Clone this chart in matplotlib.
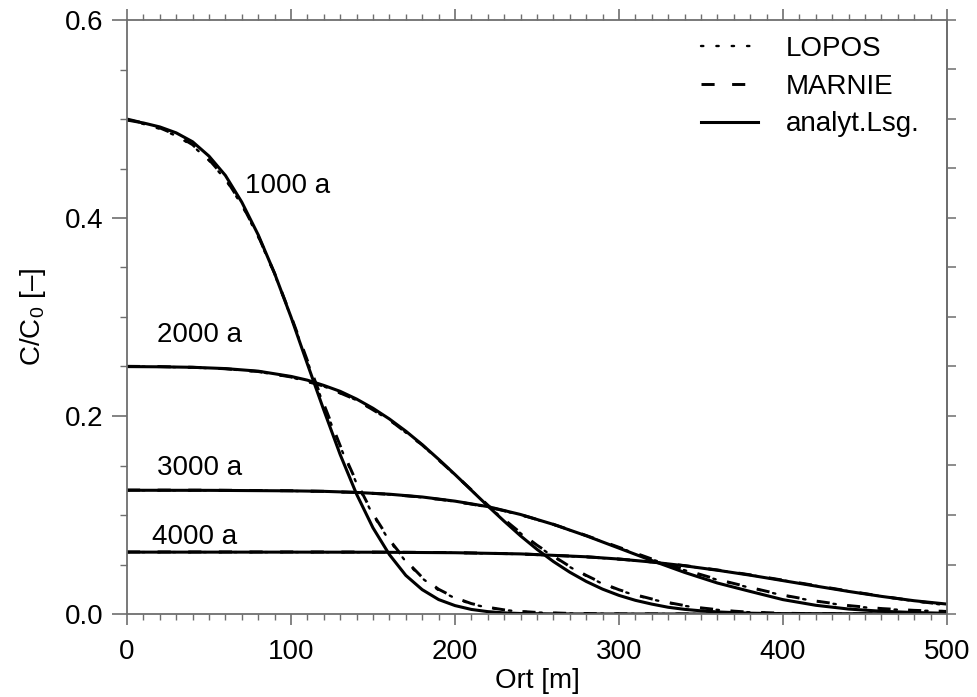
import matplotlib
matplotlib.use('Agg')
import matplotlib.pyplot as plt
from matplotlib.ticker import MultipleLocator

plt.rcParams['font.family'] = ['Liberation Sans', 'DejaVu Sans']
plt.rcParams['mathtext.fontset'] = 'custom'
plt.rcParams['mathtext.rm'] = 'Liberation Sans'
plt.rcParams['mathtext.it'] = 'Liberation Sans'
plt.rcParams['mathtext.bf'] = 'Liberation Sans'

# ---------------- data ----------------
# 1000 a
x1000_ana = [0, 10, 20, 30, 40, 50, 60, 70, 80, 90, 100, 110, 120, 130, 140, 150, 160, 170,
             180, 190, 200, 210, 220, 230, 240, 260, 300, 350, 400, 450, 500]
c1000_ana = [0.499, 0.496, 0.492, 0.486, 0.477, 0.4625, 0.443, 0.416, 0.383, 0.344, 0.300,
             0.2525, 0.206, 0.161, 0.121, 0.087, 0.060, 0.039, 0.0246, 0.0146, 0.0085, 0.0046,
             0.0024, 0.0011, 0.0005, 0.0001, 0.0, 0.0, 0.0, 0.0, 0.0]
x1000_num = [0, 10, 20, 30, 40, 50, 60, 70, 80, 90, 100, 110, 120, 130, 140, 150, 160, 170,
             180, 190, 200, 210, 220, 230, 240, 250, 270, 300, 350, 400, 450, 500]
c1000_lopos = [0.499, 0.495, 0.490, 0.483, 0.473, 0.458, 0.439, 0.413, 0.381, 0.343, 0.300,
               0.255, 0.211, 0.169, 0.132, 0.100, 0.074, 0.053, 0.036, 0.024, 0.016, 0.010,
               0.0065, 0.004, 0.0025, 0.0015, 0.0005, 0.0001, 0.0, 0.0, 0.0, 0.0]
c1000_marnie = [0.500, 0.496, 0.491, 0.484, 0.474, 0.459, 0.440, 0.414, 0.382, 0.344, 0.301,
                0.256, 0.212, 0.170, 0.133, 0.101, 0.075, 0.054, 0.037, 0.025, 0.0165, 0.0105,
                0.0068, 0.0042, 0.0026, 0.0016, 0.0006, 0.0001, 0.0, 0.0, 0.0, 0.0]

# 2000 a
x2000_ana = [0, 20, 40, 60, 80, 100, 110, 120, 130, 140, 150, 160, 170, 180, 190, 200, 210,
             220, 230, 240, 250, 260, 270, 280, 290, 300, 310, 320, 330, 340, 350, 360, 380,
             400, 450, 500]
c2000_ana = [0.2499, 0.2497, 0.2492, 0.2479, 0.2453, 0.2400, 0.2362, 0.2309, 0.2249, 0.2171,
             0.2078, 0.1970, 0.1847, 0.1711, 0.1563, 0.1409, 0.1250, 0.1091, 0.0937, 0.0789,
             0.0653, 0.0530, 0.0422, 0.0329, 0.0251, 0.0188, 0.0138, 0.0100, 0.0068, 0.0047,
             0.0032, 0.0021, 0.0008, 0.0003, 0.0, 0.0]
x2000_num = [0, 20, 40, 60, 80, 100, 120, 140, 160, 180, 200, 210, 220, 230, 240, 250, 260,
             270, 280, 290, 300, 310, 320, 330, 340, 350, 360, 370, 380, 400, 420, 450, 500]
c2000_lopos = [0.2500, 0.2497, 0.2490, 0.2475, 0.2447, 0.2392, 0.2300, 0.2160, 0.1960, 0.1705,
               0.1405, 0.1250, 0.1095, 0.0950, 0.0815, 0.0690, 0.0580, 0.0475, 0.0385, 0.0305,
               0.0240, 0.0190, 0.0148, 0.0112, 0.0082, 0.0060, 0.0042, 0.0027, 0.0017, 0.0007,
               0.0002, 0.0, 0.0]
c2000_marnie = [0.2502, 0.2499, 0.2492, 0.2477, 0.2449, 0.2394, 0.2302, 0.2162, 0.1962, 0.1708,
                0.1408, 0.1254, 0.1100, 0.0955, 0.0820, 0.0695, 0.0585, 0.0480, 0.0390, 0.0310,
                0.0245, 0.0194, 0.0152, 0.0116, 0.0085, 0.0062, 0.0044, 0.0029, 0.0018, 0.0008,
                0.0003, 0.0, 0.0]

# 3000 a
x3000 = [0, 50, 100, 120, 140, 160, 180, 200, 220, 240, 260, 280, 300, 320, 340, 360, 380,
         400, 420, 440, 460, 480, 500]
c3000_ana = [0.1250, 0.1249, 0.1244, 0.1239, 0.1228, 0.1210, 0.1182, 0.1140, 0.1085, 0.1005,
             0.0905, 0.0790, 0.0665, 0.0540, 0.0420, 0.0313, 0.0228, 0.0145, 0.0088, 0.0050,
             0.0028, 0.0015, 0.0007]
c3000_lopos = [0.1250, 0.1249, 0.1243, 0.1237, 0.1226, 0.1207, 0.1178, 0.1136, 0.1080, 0.1000,
               0.0903, 0.0790, 0.0670, 0.0552, 0.0442, 0.0345, 0.0265, 0.0188, 0.0128, 0.0082,
               0.0052, 0.0035, 0.0028]
c3000_marnie = [0.1252, 0.1251, 0.1245, 0.1239, 0.1228, 0.1209, 0.1180, 0.1138, 0.1082, 0.1003,
                0.0906, 0.0793, 0.0674, 0.0556, 0.0446, 0.0349, 0.0268, 0.0191, 0.0131, 0.0085,
                0.0055, 0.0037, 0.0026]

# 4000 a
x4000 = [0, 100, 150, 200, 240, 280, 300, 320, 340, 360, 380, 400, 420, 440, 460, 480, 500]
c4000_ana = [0.0625, 0.0625, 0.0624, 0.0619, 0.0607, 0.0578, 0.0555, 0.0525, 0.0487, 0.0442,
             0.0392, 0.0337, 0.0282, 0.0228, 0.0178, 0.0134, 0.0100]
c4000_lopos = [0.0625, 0.0625, 0.0624, 0.0618, 0.0605, 0.0576, 0.0553, 0.0524, 0.0487, 0.0443,
               0.0394, 0.0340, 0.0285, 0.0230, 0.0178, 0.0130, 0.0088]
c4000_marnie = [0.0627, 0.0627, 0.0626, 0.0620, 0.0607, 0.0578, 0.0555, 0.0526, 0.0489, 0.0445,
                0.0396, 0.0342, 0.0287, 0.0232, 0.0180, 0.0132, 0.0092]

curve_labels = ['1000 a', '2000 a', '3000 a', '4000 a']
label_pos = [(72, 0.432), (18, 0.282), (18, 0.1475), (15, 0.078)]

legend_labels = ['LOPOS', 'MARNIE', 'analyt.Lsg.']

x_ticks = [0, 100, 200, 300, 400, 500]
y_ticks = [0.0, 0.2, 0.4, 0.6]
y_ticklabels = ['0.0', '0.2', '0.4', '0.6']

FS = 20

# ---------------- figure ----------------
fig = plt.figure(figsize=(9.78, 6.97), dpi=100)
ax = fig.add_axes([127 / 978, 1 - 614 / 697, (947 - 127) / 978, (614 - 20) / 697])

dot_style = dict(color='black', lw=1.7, linestyle=(0, (1, 5.5)), dash_capstyle='round')
dash_style = dict(color='black', lw=2.1, linestyle=(0, (4.5, 6)))
solid_style = dict(color='black', lw=2.2, linestyle='-')

sets = [
    (x1000_num, c1000_lopos, x1000_num, c1000_marnie, x1000_ana, c1000_ana),
    (x2000_num, c2000_lopos, x2000_num, c2000_marnie, x2000_ana, c2000_ana),
    (x3000, c3000_lopos, x3000, c3000_marnie, x3000, c3000_ana),
    (x4000, c4000_lopos, x4000, c4000_marnie, x4000, c4000_ana),
]
for i, (xl, yl, xm, ym, xa, ya) in enumerate(sets):
    h1, = ax.plot(xl, yl, **dot_style)
    h2, = ax.plot(xm, ym, **dash_style)
    h3, = ax.plot(xa, ya, **solid_style)
    if i == 0:
        handles = [h1, h2, h3]

for lab, (tx, ty) in zip(curve_labels, label_pos):
    ax.text(tx, ty, lab, fontsize=FS, va='center', ha='left')

ax.set_xlim(0, 500)
ax.set_ylim(0, 0.6)
ax.set_xticks(x_ticks)
ax.set_yticks(y_ticks)
ax.set_yticklabels(y_ticklabels)
ax.xaxis.set_minor_locator(MultipleLocator(10))
ax.yaxis.set_minor_locator(MultipleLocator(0.05))

spine_col = '#6e6e6e'
for s in ax.spines.values():
    s.set_color(spine_col)
    s.set_linewidth(1.3)

ax.tick_params(axis='x', which='major', direction='out', length=8, width=1.2,
               color=spine_col, labelsize=FS, pad=10, top=True)
ax.tick_params(axis='x', which='minor', direction='out', length=4.5, width=1.0,
               color=spine_col, top=True)
ax.tick_params(axis='y', which='major', direction='out', length=11, width=1.2,
               color=spine_col, labelsize=FS, pad=6, right=False)
ax.tick_params(axis='y', which='minor', direction='out', length=5, width=1.0,
               color=spine_col, right=False)

sec = ax.secondary_yaxis('right')
sec.set_yticks(y_ticks)
sec.yaxis.set_minor_locator(MultipleLocator(0.05))
sec.tick_params(which='both', direction='out', length=6.5, width=1.1, color=spine_col,
                labelright=False)
sec.spines['right'].set_color(spine_col)
sec.spines['right'].set_linewidth(1.3)

ax.set_xlabel('Ort [m]', fontsize=FS, labelpad=2)
ax.set_ylabel('C/C$_0$ [–]', fontsize=FS, labelpad=12)

leg = ax.legend(handles, legend_labels, loc='upper left',
                bbox_to_anchor=(701 / 978, 1 - 36 / 697), bbox_transform=fig.transFigure,
                frameon=False, fontsize=FS, handlelength=2.05, handletextpad=1.0,
                labelspacing=0.42, borderpad=0, borderaxespad=0)

fig.savefig('out.png', dpi=100)
